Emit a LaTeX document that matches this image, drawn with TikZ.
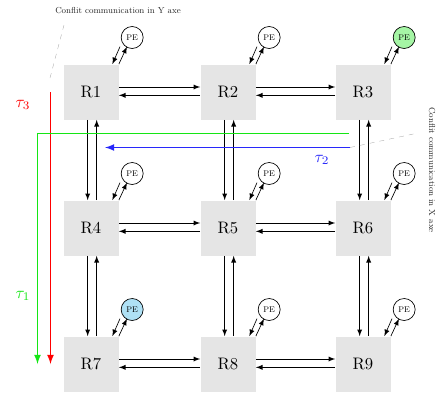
\documentclass[tikz,border=0pt]{standalone}
\usepackage{tikz}
\usetikzlibrary{arrows}

\definecolor{pegreen}{RGB}{165,245,165}
\definecolor{peblue}{RGB}{175,225,245}
\definecolor{flowgreen}{RGB}{20,230,20}
\definecolor{flowblue}{RGB}{40,40,250}

\begin{document}
\begin{tikzpicture}[x=0.6pt,y=-0.6pt,>=latex,
	router/.style={fill=gray!20,minimum size=33pt,inner sep=0pt},
	pe/.style={circle,draw,minimum size=13.2pt,inner sep=0pt},
	flow/.style={->,line width=0.9pt},
	note/.style={font=\small,scale=0.58,text=black!85},
	noteline/.style={dashed,gray!70,very thin}]
	\useasboundingbox (0,0) rectangle (438,394);

	% routers
	\foreach \n/\x/\y in {1/91/92,2/228/92,3/363/92,4/91/228,5/228/228,6/363/228,7/91/364,8/228/364,9/363/364}
		\node[router] (R\n) at (\x,\y) {R\n};

	% processing elements
	\foreach \n/\c in {1/white,2/white,3/pegreen,4/white,5/white,6/white,7/peblue,8/white,9/white}{
		\node[pe,fill=\c] (pe\n) at ([shift={(8pt,16pt)}]R\n.north east) {\scalebox{0.55}{\small PE}};
		\draw[->] ([shift={(-2.5pt,-0.7pt)}]pe\n.south west) -- ([xshift=-3.9pt]R\n.north east);
		\draw[->] (R\n.north east) -- ([shift={(1.7pt,-0.7pt)}]pe\n.south west);
	}

	% links in X
	\foreach \a/\b in {R1/R2,R2/R3,R4/R5,R5/R6,R7/R8,R8/R9}{
		\draw[->] ([yshift=3pt]\a.east) -- ([yshift=3pt]\b.west);
		\draw[->] ([yshift=-2pt]\b.west) -- ([yshift=-2pt]\a.east);
	}

	% links in Y
	\foreach \a/\b in {R1/R4,R2/R5,R3/R6,R4/R7,R5/R8,R6/R9}{
		\draw[->] ([xshift=-2pt]\a.south) -- ([xshift=-2pt]\b.north);
		\draw[->] ([xshift=3.4pt]\b.north) -- ([xshift=3.4pt]\a.south);
	}

	% flows
	\coordinate (redtop) at (50.5,92);
	\coordinate (redend) at (50.5,364);
	\coordinate (gstart) at (349,133.5);
	\coordinate (gcorner) at (37.5,133.5);
	\coordinate (gend) at (37.5,364);
	\coordinate (bstart) at (350,147.5);
	\coordinate (bend) at (105,147.5);
	\draw[flow,red] (redtop) -- (redend);
	\draw[flow,flowgreen] (gstart) -- (gcorner) -- (gend);
	\draw[flow,flowblue] (bstart) -- (bend);
	\node[red] (tau3) at (23,105) {$\tau_3$};
	\node[flowgreen] (tau1) at (23,296) {$\tau_1$};
	\node[flowblue] (tau2) at (322,160) {$\tau_2$};

	% notes
	\coordinate (ylink) at (50,78);
	\coordinate (ytop) at (64,25);
	\coordinate (xlink) at (418,133);
	\node[note] (ynote) at (118,11) {Conflit communication in Y axe};
	\node[note,rotate=-90] (xnote) at (432,170) {Conflit communication in X axe};
	\draw[noteline] (ylink) -- (ytop);
	\draw[noteline] (bstart) -- (xlink);
\end{tikzpicture}
\end{document}
